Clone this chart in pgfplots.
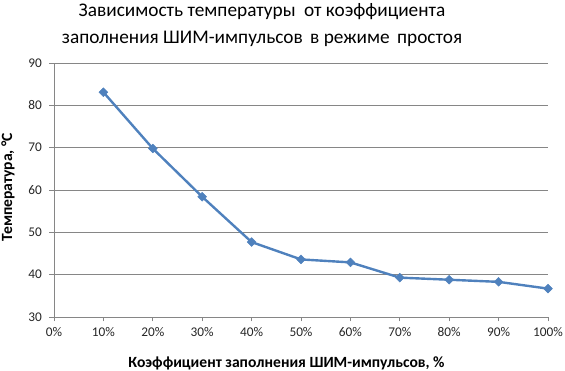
\documentclass[border=0pt]{standalone}
\usepackage{fontspec}
\setmainfont{Carlito}
\usepackage{pgfplots}
\pgfplotsset{compat=1.18}
\definecolor{lineblue}{HTML}{4F81BD}
\definecolor{gridgray}{HTML}{868686}
\begin{document}
\begin{tikzpicture}[x=1pt,y=1pt]
\useasboundingbox (0,0) rectangle (565,371);
\begin{axis}[
  at={(54pt,54pt)}, anchor=south west,
  scale only axis, width=494pt, height=254pt,
  xmin=0, xmax=100, ymin=30, ymax=90,
  xtick={0,10,...,100}, ytick={30,40,...,90},
  xticklabel={\pgfmathprintnumber{\tick}\%},
  /pgf/number format/assume math mode=true,
  ymajorgrids, grid style={gridgray, line width=0.8pt},
  axis x line*=bottom, axis y line*=left,
  axis line style={gridgray, line width=0.8pt},
  tick style={gridgray, line width=0.8pt},
  tick align=outside, major tick length=4.5pt,
  x axis line style={-}, y axis line style={-},
  ticklabel style={font=\fontsize{13.3}{15}\selectfont, text=black!85},
  xticklabel style={yshift=-2pt},
  yticklabel style={xshift=-4pt},
  clip=false,
]
\addplot[lineblue, line width=2.4pt, mark=square*, mark size=3.1pt, mark options={fill=lineblue, draw=lineblue, line width=0.5pt, rotate=45}]
coordinates {(10,83.1) (20,69.8) (30,58.4) (40,47.7) (50,43.6) (60,42.9) (70,39.3) (80,38.8) (90,38.3) (100,36.7)};
\end{axis}
\node[align=center, font=\fontsize{19.3}{27}\selectfont, anchor=center] at (262,346) {Зависимость температуры\hspace{4pt} от коэффициента\\заполнения ШИМ-импульсов\hspace{3pt} в режиме\hspace{3pt} простоя};
\node[font=\bfseries\fontsize{15.6}{17}\selectfont] at (286.5,8) {Коэффициент заполнения ШИМ-импульсов, \%};
\node[font=\bfseries\fontsize{15.6}{17}\selectfont, rotate=90] at (8,184) {Температура, °C};
\end{tikzpicture}
\end{document}
